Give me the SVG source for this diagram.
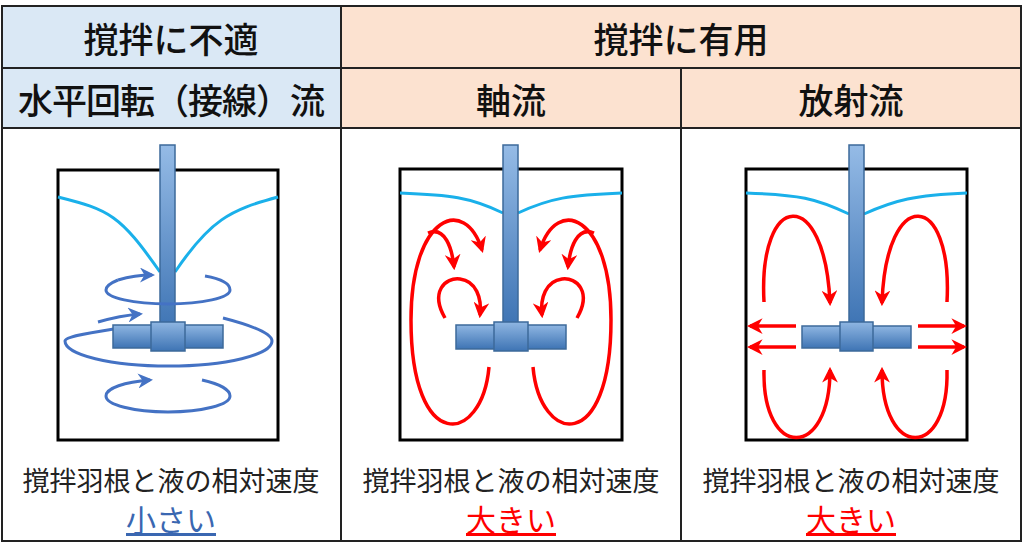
<svg xmlns="http://www.w3.org/2000/svg" width="1024" height="558" viewBox="0 0 1024 558">
<style>
.hdr{font-family:"Noto Sans CJK JP","Noto Sans",sans-serif;font-size:35px;font-weight:500;fill:#111;text-anchor:middle}
.cap{font-family:"Noto Sans CJK JP","Noto Sans",sans-serif;font-size:27px;fill:#222;text-anchor:middle}
.res{font-family:"Noto Sans CJK JP","Noto Sans",sans-serif;font-size:30px;text-anchor:middle;text-decoration:underline}
.tank{fill:none;stroke:#000;stroke-width:3}
.surf{fill:none;stroke:#1ab0ea;stroke-width:3}
.blade{fill:url(#bg);stroke:#3d6a9a;stroke-width:1.5}
.red{fill:none;stroke:#f00;stroke-width:3.5;marker-end:url(#ra)}
.blue{fill:none;stroke:#4472c4;stroke-width:3}
.bluea{fill:none;stroke:#4472c4;stroke-width:3;marker-end:url(#ba)}
.grid{fill:none;stroke:#222;stroke-width:2}
</style>
<defs>
<linearGradient id="bg" x1="0" y1="0" x2="0" y2="1"><stop offset="0" stop-color="#8fb6e2"/><stop offset="1" stop-color="#3e74b4"/></linearGradient>
<linearGradient id="sg" x1="0" y1="0" x2="0" y2="1"><stop offset="0" stop-color="#95bbe6"/><stop offset="1" stop-color="#3e74b4"/></linearGradient>
<marker id="ra" viewBox="0 0 10 10" refX="8" refY="5" markerWidth="4.5" markerHeight="4.5" orient="auto" markerUnits="strokeWidth"><path d="M0,0 L10,5 L0,10 L3,5 Z" fill="#f00"/></marker>
<marker id="ba" viewBox="0 0 10 10" refX="8" refY="5" markerWidth="5" markerHeight="5" orient="auto" markerUnits="strokeWidth"><path d="M0,0 L10,5 L0,10 L3,5 Z" fill="#4472c4"/></marker>
</defs>
<rect width="1024" height="558" fill="#fff"/>
<g id="table">
<rect x="2" y="6" width="339" height="122" fill="#dae8f5"/>
<rect x="341" y="6" width="680" height="122" fill="#fce2d0"/>
<rect x="2" y="6" width="1019" height="535" class="grid"/>
<line x1="2" y1="68" x2="1021" y2="68" class="grid"/>
<line x1="2" y1="128" x2="1021" y2="128" class="grid"/>
<line x1="341" y1="6" x2="341" y2="541" class="grid"/>
<line x1="681" y1="68" x2="681" y2="541" class="grid"/>
<text x="171" y="53" class="hdr">撹拌に不適</text>
<text x="681" y="53" class="hdr">撹拌に有用</text>
<text x="171" y="114" class="hdr" letter-spacing="-1">水平回転（接線）流</text>
<text x="511" y="114" class="hdr">軸流</text>
<text x="851" y="114" class="hdr">放射流</text>
</g>
<g id="panel1">
<rect x="58" y="170" width="220" height="270" class="tank"/>
<path d="M58,197 C110,210 120,215 160,272 M175,272 C210,220 230,210 278,197" class="surf"/>
<rect x="160" y="145" width="15" height="185" fill="url(#sg)" stroke="#3d6a9a" stroke-width="1.5"/>
<path d="M118,280 C108,284 106,288 106,290 A62,14 0 0 0 230,290 C230,284 222,279 205,276" class="blue"/>
<path d="M118,280 C128,277 140,275 152,275" class="bluea"/>
<path d="M120,328 C95,332 65,336 65,341 A103,25 0 0 0 272,341 C272,333 250,325 223,318" class="blue"/>
<path d="M98,322 C112,318 128,315 140,314" class="bluea"/>
<path d="M202,380 C220,384 230,390 230,396 A62,16 0 0 1 106,396 C106,388 125,382 150,380" class="bluea"/>
<rect x="113" y="325" width="110" height="23" class="blade"/>
<rect x="151" y="322" width="34" height="29" class="blade"/>
<text x="171" y="491" class="cap">撹拌羽根と液の相対速度</text>
<text x="171" y="531" class="res" fill="#3a67b1">小さい</text>
</g>
<g id="panel2">
<rect x="400" y="169" width="222" height="271" class="tank"/>
<path d="M400,193 C450,195 470,197 503,213 M518,213 C550,198 570,195 622,193" class="surf"/>
<rect x="503" y="145" width="15" height="180" fill="url(#sg)" stroke="#3d6a9a" stroke-width="1.5"/>
<path d="M489,367 C482,445 411,455 411,320 C411,215 465,195 482,250" class="red"/>
<path d="M428,233 C445,226 452,248 454,267" class="red"/>
<path d="M445,318 C430,292 445,277 460,279 C476,281 482,298 480,315" class="red"/>
<path d="M533,367 C540,445 611,455 611,320 C611,215 557,195 540,250" class="red"/>
<path d="M594,233 C577,226 570,248 568,267" class="red"/>
<path d="M577,318 C592,292 577,277 562,279 C546,281 540,298 542,315" class="red"/>
<rect x="456" y="325" width="110" height="24" class="blade"/>
<rect x="494" y="322" width="34" height="29" class="blade"/>
<text x="511" y="491" class="cap">撹拌羽根と液の相対速度</text>
<text x="511" y="531" class="res" fill="#f00">大きい</text>
</g>
<g id="panel3">
<rect x="746" y="169" width="221" height="271" class="tank"/>
<path d="M746,193 C800,195 815,198 849,214 M864,214 C895,200 915,195 967,193" class="surf"/>
<rect x="849" y="145" width="15" height="180" fill="url(#sg)" stroke="#3d6a9a" stroke-width="1.5"/>
<path d="M764,302 C758,190 825,185 830,303" class="red"/>
<path d="M947,302 C953,190 886,185 882,303" class="red"/>
<path d="M764,370 C762,460 830,460 830,370" class="red"/>
<path d="M947,370 C949,460 882,460 882,370" class="red"/>
<path d="M796,326 L750,326" class="red"/>
<path d="M796,347 L750,347" class="red"/>
<path d="M918,326 L964,326" class="red"/>
<path d="M918,347 L964,347" class="red"/>
<rect x="802" y="326" width="109" height="22" class="blade"/>
<rect x="840" y="322" width="33" height="29" class="blade"/>
<text x="851" y="491" class="cap">撹拌羽根と液の相対速度</text>
<text x="851" y="531" class="res" fill="#f00">大きい</text>
</g>
</svg>
